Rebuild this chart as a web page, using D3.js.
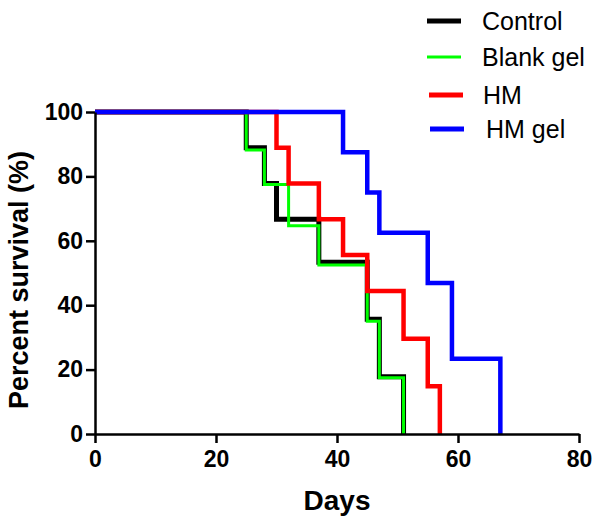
<!DOCTYPE html>
<html>
<head>
<meta charset="utf-8">
<script src="https://cdn.jsdelivr.net/npm/d3@7"></script>
<style>
  html, body { margin: 0; padding: 0; background: #fff; }
  svg { display: block; }
</style>
</head>
<body>
<svg id="chart" width="600" height="527"></svg>
<script>
// ---- Data ----
const seriesNames = ["Control", "Blank gel", "HM", "HM gel"];
const controlDays = [0, 25, 28, 30, 37, 45, 47, 51];
const controlSurv = [100, 88.9, 77.8, 66.7, 53.3, 35.6, 17.8, 0];
const blankDays = [0, 25, 28, 32, 37, 45, 47, 51];
const blankSurv = [100, 88.2, 77.5, 64.7, 52.5, 35.0, 17.5, 0];
const hmDays = [0, 30, 32, 37, 41, 45, 51, 55, 57];
const hmSurv = [100, 88.9, 77.8, 66.7, 55.6, 44.4, 29.6, 14.8, 0];
const hmGelDays = [0, 41, 45, 47, 55, 59, 67];
const hmGelSurv = [100, 87.5, 75, 62.5, 46.9, 23.4, 0];
const xTicks = [0, 20, 40, 60, 80];
const yTicks = [0, 20, 40, 60, 80, 100];
const colors = ["#000000", "#00ff00", "#ff0000", "#0000ff"];
const widths = [5, 3, 4.5, 4.5];

const series = [
  {name: seriesNames[0], days: controlDays, surv: controlSurv},
  {name: seriesNames[1], days: blankDays, surv: blankSurv},
  {name: seriesNames[2], days: hmDays, surv: hmSurv},
  {name: seriesNames[3], days: hmGelDays, surv: hmGelSurv}
];

const svg = d3.select("#chart");
const x = d3.scaleLinear().domain([0, 80]).range([95, 579]);
const y = d3.scaleLinear().domain([0, 100]).range([434, 112]);

// Lines
const line = d3.line().x(d => x(d[0])).y(d => y(d[1])).curve(d3.curveStepAfter);
series.forEach((s, i) => {
  const pts = s.days.map((d, k) => [d, s.surv[k]]);
  svg.append("path")
    .attr("d", line(pts))
    .attr("fill", "none")
    .attr("stroke", colors[i])
    .attr("stroke-width", widths[i])
    .attr("stroke-linejoin", "miter")
    .attr("stroke-linecap", "butt");
});

// Axes
const font = "Arial, 'Liberation Sans', Helvetica, sans-serif";
const xAxis = svg.append("g").attr("transform", "translate(0,434)")
  .call(d3.axisBottom(x).tickValues(xTicks).tickSize(9).tickPadding(8).tickSizeOuter(0));
const yAxis = svg.append("g").attr("transform", "translate(95,0)")
  .call(d3.axisLeft(y).tickValues(yTicks).tickSize(9).tickPadding(3).tickSizeOuter(0));
[xAxis, yAxis].forEach(a => {
  a.select(".domain").attr("stroke", "#000").attr("stroke-width", 2.5);
  a.selectAll(".tick line").attr("stroke", "#000").attr("stroke-width", 2.5);
  a.selectAll(".tick text").attr("fill", "#000")
    .style("font-family", font).style("font-weight", "bold").style("font-size", "23px");
});

// Axis titles
svg.append("text")
  .attr("x", 337).attr("y", 510)
  .attr("text-anchor", "middle")
  .style("font-family", font).style("font-weight", "bold").style("font-size", "28px")
  .text("Days");
svg.append("text")
  .attr("transform", "translate(28,280) rotate(-90)")
  .attr("text-anchor", "middle")
  .style("font-family", font).style("font-weight", "bold").style("font-size", "27px")
  .text("Percent survival (%)");

// Legend
const legY = [21, 57, 95, 129];
const legX1 = [427, 427, 429, 430];
const legTX = [482, 482, 483, 486];
const leg = svg.append("g");
series.forEach((s, i) => {
  leg.append("line")
    .attr("x1", legX1[i]).attr("x2", legX1[i] + 34)
    .attr("y1", legY[i]).attr("y2", legY[i])
    .attr("stroke", colors[i]).attr("stroke-width", i === 1 ? 3 : 5);
  leg.append("text")
    .attr("x", legTX[i]).attr("y", legY[i]).attr("dy", "0.35em")
    .style("font-family", font).style("font-size", "25px").attr("fill", "#000")
    .text(s.name);
});
</script>
</body>
</html>
